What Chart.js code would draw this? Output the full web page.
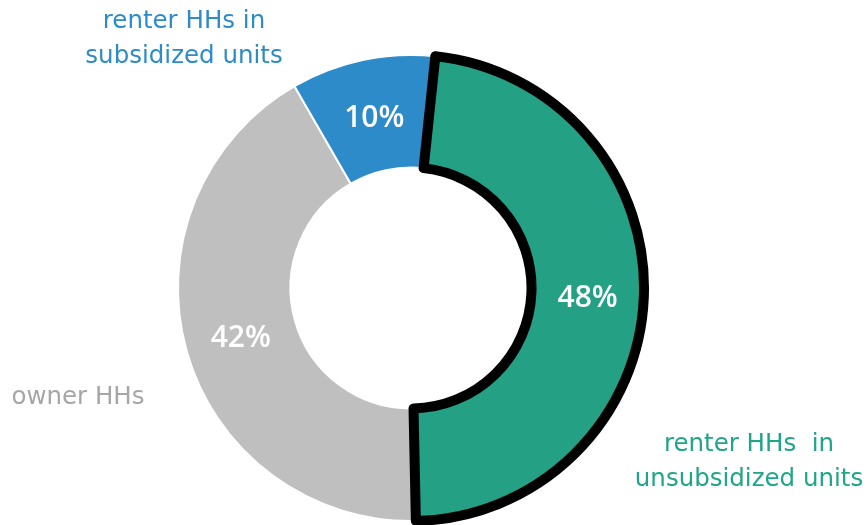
<!DOCTYPE html>
<html>
<head>
<meta charset="utf-8">
<script src="https://cdn.jsdelivr.net/npm/chart.js@4.4.1/dist/chart.umd.min.js"></script>
<style>
  html, body { margin: 0; padding: 0; background: #fff; }
  #wrap { width: 867px; height: 525px; position: relative; }
</style>
</head>
<body>
<div id="wrap"><canvas id="donutChart"></canvas></div>
<script>
// data, in drawing order (owner first so the outlined slice is painted last)
const categories = ['owner HHs', 'renter HHs in subsidized units', 'renter HHs  in unsubsidized units'];
const shares = [42, 10, 48];
const sliceColors = ['#BFBFBF', '#2E8BC9', '#24A085'];
const textColors = ['#A6A6A6', '#2E8BC9', '#1FA58A'];

// outside label text lines and their offsets from the doughnut centre
const labelLines = [
    ['owner HHs'],
    ['renter HHs in', 'subsidized units'],
    ['renter HHs  in', 'unsubsidized units']
];
const labelOffsets = [[-333, 110], [-227, -266], [338, 157]];

const valueLabels = {
    id: 'valueLabels',
    afterDatasetsDraw(chart) {
        const ctx = chart.ctx;
        const meta = chart.getDatasetMeta(0);
        ctx.save();
        ctx.textAlign = 'center';
        ctx.textBaseline = 'middle';
        meta.data.forEach((arc, i) => {
            const p = arc.tooltipPosition();
            ctx.fillStyle = '#fff';
            ctx.font = '600 30px "Open Sans"';
            ctx.fillText(shares[i] + '%', p.x, p.y + 3);
        });
        const cx = meta.data[0].x, cy = meta.data[0].y;
        ctx.font = '24.5px "DejaVu Sans"';
        labelLines.forEach((lines, i) => {
            ctx.fillStyle = textColors[i];
            lines.forEach((t, j) => {
                ctx.fillText(t, cx + labelOffsets[i][0], cy + labelOffsets[i][1] + j * 35);
            });
        });
        ctx.restore();
    }
};

const chart = new Chart(document.getElementById('donutChart'), {
    type: 'doughnut',
    data: {
        labels: categories,
        datasets: [{
            data: shares,
            backgroundColor: sliceColors,
            borderColor: ['#fff', '#fff', '#000'],
            borderWidth: [2, 2, 10],
            borderJoinStyle: 'round',
            hoverOffset: 0
        }]
    },
    options: {
        responsive: true,
        maintainAspectRatio: false,
        animation: false,
        rotation: 178.8,
        radius: 233,
        cutout: 120,
        layout: { padding: { left: 0, right: 45, top: 51, bottom: 0 } },
        plugins: {
            legend: { display: false },
            tooltip: { enabled: false }
        }
    },
    plugins: [valueLabels]
});
</script>
</body>
</html>
